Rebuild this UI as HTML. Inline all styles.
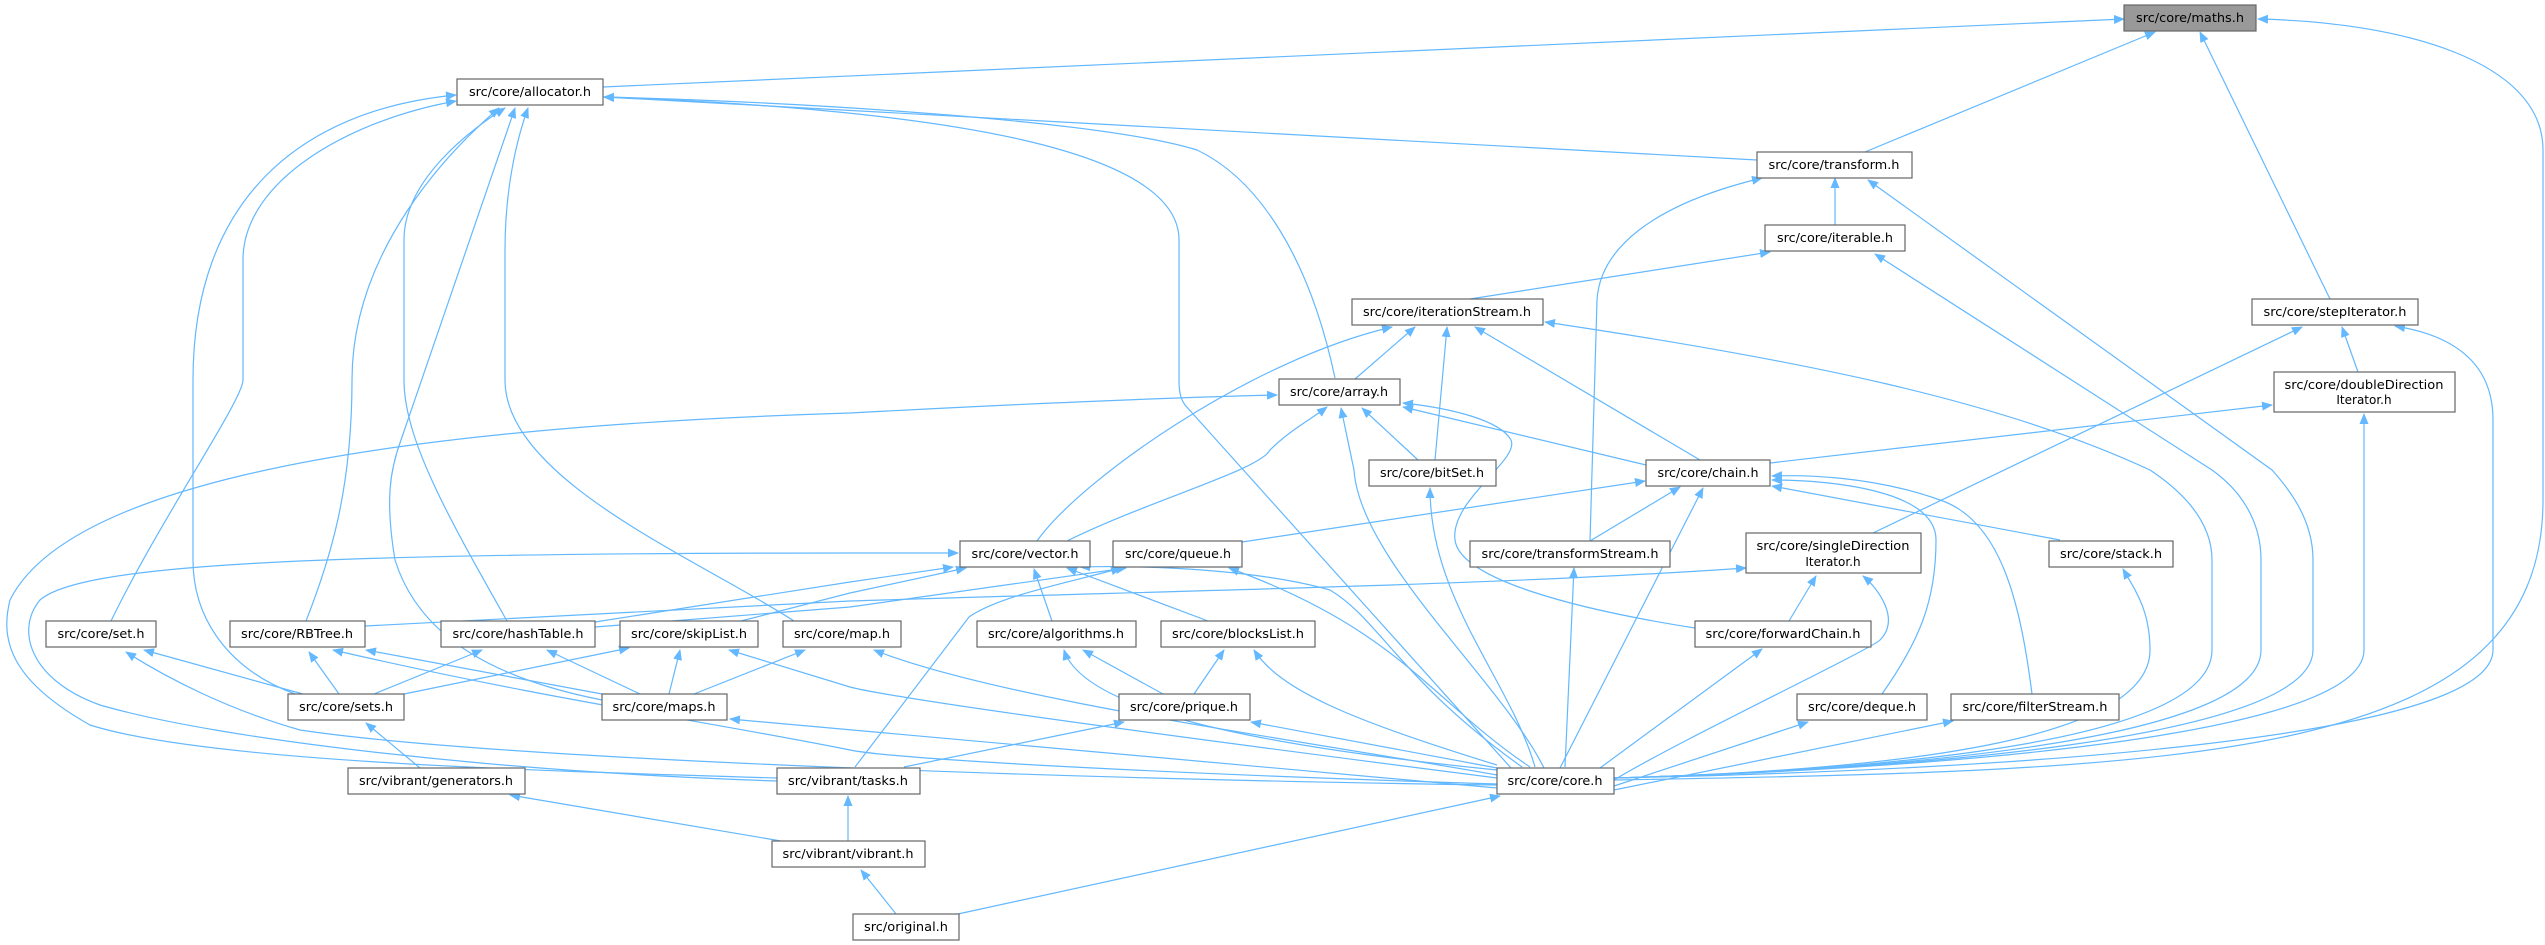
<!DOCTYPE html>
<html><head><meta charset="utf-8"><style>
html,body{margin:0;padding:0;background:#fff;}
svg{display:block;}
text{font-family:"DejaVu Sans","Liberation Sans",sans-serif;font-size:12px;fill:#000;}
.e{fill:none;stroke:#63b8ff;stroke-width:1.2;marker-end:url(#a);}
.n{fill:#fff;stroke:#666;stroke-width:1.2;}
</style></head><body>
<svg width="2545" height="945" viewBox="0 0 2545 945" xmlns="http://www.w3.org/2000/svg">
<defs><marker id="a" markerWidth="11" markerHeight="9" refX="10" refY="4.5" orient="auto" markerUnits="userSpaceOnUse"><path d="M0,0L11,4.5L0,9z" fill="#63b8ff"/></marker></defs>
<g>
<path class="e" d="M603,87 L2124,19"/>
<path class="e" d="M1865,152 L2155,32"/>
<path class="e" d="M2330,299 L2200,32"/>
<path class="e" d="M1614,780 C2200,770 2543,760 2543,500 L2543,150 C2543,60 2400,22 2258,19"/>
<path class="e" d="M1757,160 L604,97"/>
<path class="e" d="M1335,378 C1310,260 1260,180 1197,150 C1100,120 800,102 604,97"/>
<path class="e" d="M1511,768 L1185,405 C1180,398 1179,390 1179,380 L1179,240 C1179,150 950,110 604,97"/>
<path class="e" d="M1835,225 L1835,178"/>
<path class="e" d="M1590,541 L1597,300 C1600,250 1650,205 1762,178"/>
<path class="e" d="M1614,778 C1900,770 2313,740 2313,650 L2313,560 C2313,520 2290,490 2272,470 L1868,180"/>
<path class="e" d="M1614,778 C1900,770 2261,740 2261,650 L2261,560 C2261,520 2240,490 2212,470 L1875,254"/>
<path class="e" d="M1614,778 C1900,770 2212,740 2212,650 L2212,560 C2212,520 2180,490 2150,470 C2000,400 1800,360 1545,322"/>
<path class="e" d="M1614,778 C1900,770 2150,740 2150,650 C2150,610 2135,590 2123,569"/>
<path class="e" d="M1614,778 C1900,770 2364,740 2364,650 L2364,414"/>
<path class="e" d="M1614,778 C2000,770 2493,740 2493,650 L2493,420 C2493,360 2450,335 2395,326"/>
<path class="e" d="M1470,299 L1770,252"/>
<path class="e" d="M1355,379 L1415,327"/>
<path class="e" d="M1037,541 C1080,480 1250,360 1392,327"/>
<path class="e" d="M1435,460 L1447,327"/>
<path class="e" d="M1700,460 L1475,327"/>
<path class="e" d="M777,778 C500,770 200,760 90,725 C10,680 0,640 10,600 C60,500 300,430 850,413 C1000,405 1150,398 1277,395"/>
<path class="e" d="M777,781 C500,772 220,740 100,705 C30,680 15,630 40,600 C80,565 300,553 850,553 L958,553"/>
<path class="e" d="M1067,541 C1150,500 1260,470 1270,450 C1290,430 1310,420 1327,407"/>
<path class="e" d="M1418,460 L1362,408"/>
<path class="e" d="M1544,768 C1500,680 1360,560 1354,470 L1341,408"/>
<path class="e" d="M1646,465 L1403,407"/>
<path class="e" d="M1695,628 C1580,610 1460,580 1455,540 C1450,500 1520,460 1511,440 C1500,420 1450,408 1403,403"/>
<path class="e" d="M2358,372 L2342,327"/>
<path class="e" d="M1873,533 L2302,327"/>
<path class="e" d="M1770,463 L2272,405"/>
<path class="e" d="M1242,542 L1645,481"/>
<path class="e" d="M1590,541 L1680,487"/>
<path class="e" d="M2060,540 L1772,486"/>
<path class="e" d="M1882,694 C1920,640 1936,600 1936,540 C1936,490 1830,480 1772,480"/>
<path class="e" d="M2032,694 C2020,600 2000,520 1940,500 C1870,475 1800,475 1772,476"/>
<path class="e" d="M1560,768 L1703,488"/>
<path class="e" d="M1614,780 C1680,740 1870,650 1880,640 C1900,620 1880,590 1863,576"/>
<path class="e" d="M1789,621 L1816,576"/>
<path class="e" d="M1600,768 L1762,649"/>
<path class="e" d="M1614,786 L1808,722"/>
<path class="e" d="M1614,790 L1953,721"/>
<path class="e" d="M365,626 L850,601 C1200,590 1500,585 1746,568"/>
<path class="e" d="M595,622 L850,582 L953,567"/>
<path class="e" d="M737,622 L850,593 L966,568"/>
<path class="e" d="M595,627 L850,607 L1126,568"/>
<path class="e" d="M855,767 L969,617 C1000,595 1080,580 1121,568"/>
<path class="e" d="M295,694 C230,670 193,620 193,560 L193,380 C193,200 300,110 456,95"/>
<path class="e" d="M111,621 C160,520 243,400 243,380 L243,260 C243,180 350,120 456,101"/>
<path class="e" d="M306,621 C330,560 352,490 352,380 C352,250 450,150 499,108"/>
<path class="e" d="M602,700 C500,680 420,640 395,560 C385,500 390,470 401,440 L515,108"/>
<path class="e" d="M507,621 C450,520 404,440 404,380 L404,240 C404,180 470,130 505,108"/>
<path class="e" d="M794,621 C700,560 505,480 505,380 L505,250 C505,180 520,130 528,108"/>
<path class="e" d="M303,694 L144,650"/>
<path class="e" d="M1497,785 C1100,780 500,760 300,730 C230,710 170,680 126,652"/>
<path class="e" d="M339,694 L309,652"/>
<path class="e" d="M602,694 L366,650"/>
<path class="e" d="M1497,784 C1200,775 900,760 850,750 C700,720 550,700 333,650"/>
<path class="e" d="M374,694 L482,650"/>
<path class="e" d="M640,694 L547,650"/>
<path class="e" d="M404,694 L629,648"/>
<path class="e" d="M669,694 L680,650"/>
<path class="e" d="M1497,778 C1200,740 900,700 850,687 L729,650"/>
<path class="e" d="M694,694 L805,650"/>
<path class="e" d="M1497,775 C1300,740 1000,700 874,650"/>
<path class="e" d="M1497,788 L730,719"/>
<path class="e" d="M420,768 L366,723"/>
<path class="e" d="M781,841 L510,795"/>
<path class="e" d="M848,841 L848,796"/>
<path class="e" d="M896,914 L861,870"/>
<path class="e" d="M958,914 L1500,796"/>
<path class="e" d="M1052,621 L1034,569"/>
<path class="e" d="M1208,621 L1067,568"/>
<path class="e" d="M1522,767 C1400,680 1380,620 1330,590 C1260,570 1150,565 1080,567"/>
<path class="e" d="M1530,767 C1430,700 1400,630 1229,568"/>
<path class="e" d="M1163,694 L1083,650"/>
<path class="e" d="M1497,770 C1200,740 1080,700 1064,650"/>
<path class="e" d="M1194,694 L1224,650"/>
<path class="e" d="M1497,765 C1350,720 1280,690 1254,650"/>
<path class="e" d="M904,767 L1124,722"/>
<path class="e" d="M1497,768 L1251,722"/>
<path class="e" d="M1535,767 C1510,680 1430,600 1430,488"/>
<path class="e" d="M1565,767 L1574,568"/>
</g>
<g>
<rect x="2124" y="5" width="132" height="26" fill="#999" stroke="#666" stroke-width="1.2"/><text x="2190" y="22" text-anchor="middle" textLength="108" lengthAdjust="spacingAndGlyphs">src/core/maths.h</text>
<rect class="n" x="457" y="79" width="146" height="26"/><text x="530" y="96" text-anchor="middle" textLength="122" lengthAdjust="spacingAndGlyphs">src/core/allocator.h</text>
<rect class="n" x="1757" y="152" width="155" height="26"/><text x="1834" y="169" text-anchor="middle" textLength="131" lengthAdjust="spacingAndGlyphs">src/core/transform.h</text>
<rect class="n" x="1765" y="225" width="140" height="26"/><text x="1835" y="242" text-anchor="middle" textLength="116" lengthAdjust="spacingAndGlyphs">src/core/iterable.h</text>
<rect class="n" x="1352" y="299" width="191" height="26"/><text x="1447" y="316" text-anchor="middle" textLength="168" lengthAdjust="spacingAndGlyphs">src/core/iterationStream.h</text>
<rect class="n" x="2252" y="299" width="166" height="26"/><text x="2335" y="316" text-anchor="middle" textLength="143" lengthAdjust="spacingAndGlyphs">src/core/stepIterator.h</text>
<rect class="n" x="2274" y="372" width="181" height="40"/><text x="2364" y="389" text-anchor="middle" textLength="159" lengthAdjust="spacingAndGlyphs">src/core/doubleDirection</text><text x="2364" y="404" text-anchor="middle">Iterator.h</text>
<rect class="n" x="1279" y="379" width="121" height="26"/><text x="1339" y="396" text-anchor="middle" textLength="98" lengthAdjust="spacingAndGlyphs">src/core/array.h</text>
<rect class="n" x="1369" y="460" width="127" height="26"/><text x="1432" y="477" text-anchor="middle" textLength="104" lengthAdjust="spacingAndGlyphs">src/core/bitSet.h</text>
<rect class="n" x="1646" y="460" width="124" height="26"/><text x="1708" y="477" text-anchor="middle" textLength="101" lengthAdjust="spacingAndGlyphs">src/core/chain.h</text>
<rect class="n" x="960" y="541" width="130" height="26"/><text x="1025" y="558" text-anchor="middle" textLength="107" lengthAdjust="spacingAndGlyphs">src/core/vector.h</text>
<rect class="n" x="1113" y="541" width="129" height="26"/><text x="1178" y="558" text-anchor="middle" textLength="106" lengthAdjust="spacingAndGlyphs">src/core/queue.h</text>
<rect class="n" x="1470" y="541" width="200" height="26"/><text x="1570" y="558" text-anchor="middle" textLength="177" lengthAdjust="spacingAndGlyphs">src/core/transformStream.h</text>
<rect class="n" x="1746" y="533" width="175" height="40"/><text x="1833" y="550" text-anchor="middle" textLength="153" lengthAdjust="spacingAndGlyphs">src/core/singleDirection</text><text x="1833" y="566" text-anchor="middle">Iterator.h</text>
<rect class="n" x="2049" y="541" width="124" height="26"/><text x="2111" y="558" text-anchor="middle" textLength="102" lengthAdjust="spacingAndGlyphs">src/core/stack.h</text>
<rect class="n" x="46" y="621" width="110" height="26"/><text x="101" y="638" text-anchor="middle" textLength="87" lengthAdjust="spacingAndGlyphs">src/core/set.h</text>
<rect class="n" x="230" y="621" width="135" height="26"/><text x="297" y="638" text-anchor="middle" textLength="112" lengthAdjust="spacingAndGlyphs">src/core/RBTree.h</text>
<rect class="n" x="441" y="621" width="154" height="26"/><text x="518" y="638" text-anchor="middle" textLength="131" lengthAdjust="spacingAndGlyphs">src/core/hashTable.h</text>
<rect class="n" x="620" y="621" width="138" height="26"/><text x="689" y="638" text-anchor="middle" textLength="116" lengthAdjust="spacingAndGlyphs">src/core/skipList.h</text>
<rect class="n" x="783" y="621" width="118" height="26"/><text x="842" y="638" text-anchor="middle" textLength="96" lengthAdjust="spacingAndGlyphs">src/core/map.h</text>
<rect class="n" x="977" y="621" width="159" height="26"/><text x="1056" y="638" text-anchor="middle" textLength="136" lengthAdjust="spacingAndGlyphs">src/core/algorithms.h</text>
<rect class="n" x="1161" y="621" width="154" height="26"/><text x="1238" y="638" text-anchor="middle" textLength="132" lengthAdjust="spacingAndGlyphs">src/core/blocksList.h</text>
<rect class="n" x="1695" y="621" width="176" height="26"/><text x="1783" y="638" text-anchor="middle" textLength="155" lengthAdjust="spacingAndGlyphs">src/core/forwardChain.h</text>
<rect class="n" x="288" y="694" width="116" height="26"/><text x="346" y="711" text-anchor="middle" textLength="94" lengthAdjust="spacingAndGlyphs">src/core/sets.h</text>
<rect class="n" x="602" y="694" width="125" height="26"/><text x="664" y="711" text-anchor="middle" textLength="103" lengthAdjust="spacingAndGlyphs">src/core/maps.h</text>
<rect class="n" x="1119" y="694" width="131" height="26"/><text x="1184" y="711" text-anchor="middle" textLength="108" lengthAdjust="spacingAndGlyphs">src/core/prique.h</text>
<rect class="n" x="1797" y="694" width="130" height="26"/><text x="1862" y="711" text-anchor="middle" textLength="108" lengthAdjust="spacingAndGlyphs">src/core/deque.h</text>
<rect class="n" x="1951" y="694" width="168" height="26"/><text x="2035" y="711" text-anchor="middle" textLength="145" lengthAdjust="spacingAndGlyphs">src/core/filterStream.h</text>
<rect class="n" x="348" y="768" width="177" height="26"/><text x="436" y="785" text-anchor="middle" textLength="154" lengthAdjust="spacingAndGlyphs">src/vibrant/generators.h</text>
<rect class="n" x="777" y="768" width="143" height="26"/><text x="848" y="785" text-anchor="middle" textLength="120" lengthAdjust="spacingAndGlyphs">src/vibrant/tasks.h</text>
<rect class="n" x="1497" y="768" width="117" height="26"/><text x="1555" y="785" text-anchor="middle" textLength="95" lengthAdjust="spacingAndGlyphs">src/core/core.h</text>
<rect class="n" x="772" y="841" width="153" height="26"/><text x="848" y="858" text-anchor="middle" textLength="131" lengthAdjust="spacingAndGlyphs">src/vibrant/vibrant.h</text>
<rect class="n" x="853" y="914" width="106" height="26"/><text x="906" y="931" text-anchor="middle" textLength="84" lengthAdjust="spacingAndGlyphs">src/original.h</text>
</g>
</svg>
</body></html>
